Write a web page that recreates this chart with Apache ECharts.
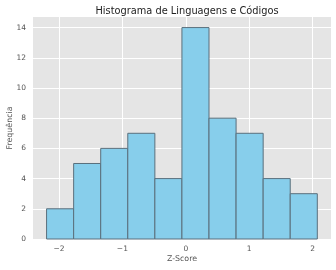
<!DOCTYPE html>
<html><head><meta charset="utf-8">
<script src="https://cdn.jsdelivr.net/npm/echarts@6/dist/echarts.min.js"></script>
<style>html,body{margin:0;padding:0;background:#fff}#c{width:336px;height:270px}</style>
</head><body><div id="c"></div>
<script>
const binEdges = [-2.196, -1.769, -1.342, -0.915, -0.488, -0.061, 0.366, 0.793, 1.220, 1.647, 2.074];
const counts = [2, 5, 6, 7, 4, 14, 8, 7, 4, 3];
const xTicks = [-2, -1, 0, 1, 2];
const yTicks = [0, 2, 4, 6, 8, 10, 12, 14];

const data = counts.map((c, i) => [binEdges[i], binEdges[i + 1], c]);
const font = 'DejaVu Sans';
const chart = echarts.init(document.getElementById('c'), null, {renderer: 'canvas'});
chart.setOption({
  animation: false,
  backgroundColor: '#fff',
  title: {
    text: 'Histograma de Linguagens e Códigos',
    left: 182, top: 1, textAlign: 'center',
    textStyle: {fontFamily: font, fontSize: 9.8, fontWeight: 'normal', color: '#222'}
  },
  grid: {left: 33, right: 5, top: 17, bottom: 31, show: true, backgroundColor: '#E5E5E5', borderWidth: 0, outerBoundsMode: 'none', containLabel: false},
  xAxis: {
    type: 'value', min: -2.41, max: 2.29,
    name: 'Z-Score', nameLocation: 'middle', nameGap: 16, nameMoveOverlap: false,
    nameTextStyle: {fontFamily: font, fontSize: 7.9, color: '#555'},
    axisLine: {show: false},
    splitLine: {show: true, lineStyle: {color: '#fff', width: 1}},
    axisLabel: {
      customValues: xTicks,
      fontFamily: font, fontSize: 7.5, color: '#555', margin: 6,
      formatter: v => String(v).replace('-', '\u2212')
    },
    axisTick: {show: false, customValues: xTicks}
  },
  yAxis: {
    type: 'value', min: 0, max: 14.7,
    name: 'Frequência', nameLocation: 'middle', nameGap: 19, nameMoveOverlap: false,
    nameTextStyle: {fontFamily: font, fontSize: 7.9, color: '#555'},
    axisLine: {show: false},
    splitLine: {show: true, lineStyle: {color: '#fff', width: 1}},
    axisLabel: {customValues: yTicks, fontFamily: font, fontSize: 7.5, color: '#555', margin: 7},
    axisTick: {show: false, customValues: yTicks}
  },
  series: [{
    type: 'custom',
    data: data,
    encode: {x: [0, 1], y: 2},
    renderItem: function (params, api) {
      const p0 = api.coord([api.value(0), 0]);
      const p1 = api.coord([api.value(1), api.value(2)]);
      return {
        type: 'rect',
        shape: {x: p0[0], y: p1[1], width: p1[0] - p0[0], height: p0[1] - p1[1]},
        style: {fill: '#87CEEB', stroke: '#5a6f7c', lineWidth: 1}
      };
    }
  }]
});
</script></body></html>
